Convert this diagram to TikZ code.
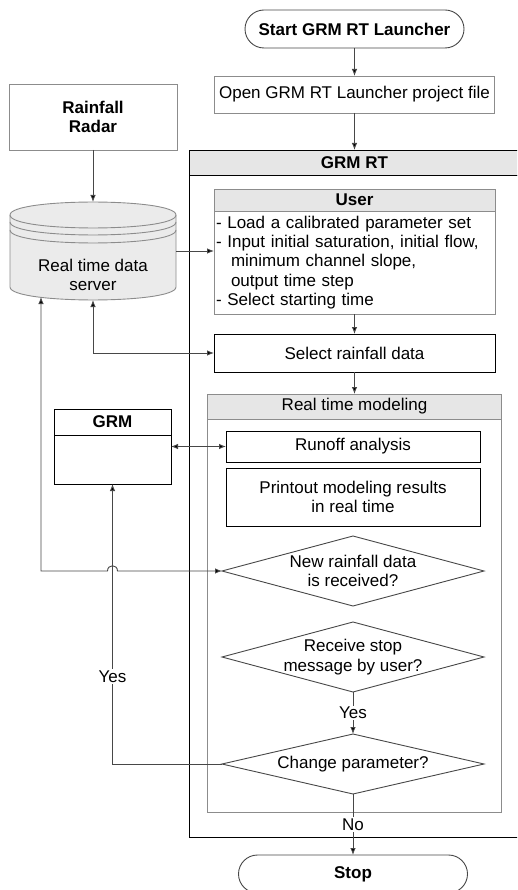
\documentclass[tikz,border=0pt]{standalone}
\usepackage{fontspec}
\setmainfont{Liberation Sans}
\usepackage{xcolor}
\usepackage{tikz}
\usetikzlibrary{calc, shapes.geometric, shapes.misc, arrows.meta, positioning}

\definecolor{linegray}{HTML}{474747}
\definecolor{boxgray}{HTML}{8C8C8C}
\definecolor{headfill}{HTML}{E6E6E6}
\definecolor{dbfill}{HTML}{EBEBEB}

\tikzset{
	base/.style={font=\fontsize{17}{19.2}\selectfont, inner sep=0pt, outer sep=0pt, line width=0.9pt},
	bold/.style={font=\fontsize{17}{19.2}\selectfont\bfseries},
	terminal/.style={base, bold, rounded rectangle, draw=linegray, minimum height=38pt},
	process/.style={base, rectangle, draw=black, align=center},
	lightbox/.style={process, draw=boxgray},
	headbox/.style={base, rectangle, draw, fill=headfill},
	decision/.style={base, diamond, draw=linegray, minimum width=262pt},
	conn/.style={draw=linegray, line width=0.9pt, -{Latex[length=7pt, width=5.5pt, fill=black]}},
	twoway/.style={conn, {Latex[length=7pt, width=5.5pt, fill=black]}-{Latex[length=7pt, width=5.5pt, fill=black]}},
	yesno/.style={base, fill=white, inner sep=1.5pt}
}

\begin{document}
\begin{tikzpicture}[x=1pt, y=-1pt]
		\useasboundingbox (0,0) rectangle (517,890);
		\clip (0,0) rectangle (517,890);

		% main column
		\node(start) [terminal, minimum width=219pt] at (354.5,29) {Start GRM RT Launcher};
		\node [lightbox, below=28pt of start, minimum width=280pt, minimum height=37pt] (open) {Open GRM RT Launcher project file};
		\node [headbox, below=37pt of open, xshift=10pt, minimum width=350pt, minimum height=25pt] (grmrthead) {};
		\node [bold] (grmrttext) at (grmrthead -| open) {GRM RT};
		\node [process, below=0pt of grmrthead, minimum width=350pt, minimum height=662pt] (grmrt) {};
		\node [headbox, bold, draw=boxgray, below=14pt of grmrthead.south -| open, minimum width=281pt, minimum height=22pt] (userhead) {User};
		\node [lightbox, below=0pt of userhead, minimum width=281pt, minimum height=103pt, text width=277pt, inner xsep=2pt, align=left] (user) {- Load a calibrated parameter set\\
					- Input initial saturation, initial flow,\\
					\hspace*{15pt}minimum channel slope,\\
					\hspace*{15pt}output time step\\
					- Select starting time};
		\node [process, below=20pt of user, minimum width=281pt, minimum height=38pt] (select) {Select rainfall data};
		\node [headbox, draw=boxgray, below=22pt of select, minimum width=294pt, minimum height=25pt] (rtmhead) {Real time modeling};
		\node [lightbox, below=0pt of rtmhead, minimum width=294pt, minimum height=393pt] (rtm) {};
		\node [process, below=12pt of rtmhead, xshift=-1.5pt, minimum width=254pt, minimum height=31pt] (runoff) {Runoff analysis};
		\node [process, below=6pt of runoff, minimum width=254pt, minimum height=58pt] (printout) {Printout modeling results\\in real time};
		\node [decision, below=10pt of printout, minimum height=70pt,
			label={[base, align=center, name=newdatatext]center:{New rainfall data\\is received?}}] (newdata) {};
		\node [decision, below=16pt of newdata, minimum height=70pt,
			label={[base, align=center, name=stopmsgtext]center:{Receive stop\\message by user?}}] (stopmsg) {};
		\node [decision, below=42pt of stopmsg, minimum height=60pt,
			label={[base, name=changetext]center:{Change parameter?}}] (change) {};
		\node [terminal, below=61pt of change, minimum width=229pt] (stop) {Stop};

		% left column
		\node [lightbox, bold, minimum width=168pt, minimum height=66pt] (radar) at (93,117) {Rainfall\\Radar};
		\node [base, minimum width=166pt, minimum height=98pt] (server) at (93,251) {};
		\path[draw=boxgray, fill=dbfill, line width=0.9pt] (10,215) -- (10,287) .. controls (10,304.3) and (176,304.3) .. (176,287)
			-- (176,215) .. controls (176,197.7) and (10,197.7) .. (10,215) -- cycle;
		\path[draw=boxgray, line width=0.9pt] (10,215) .. controls (10,232.3) and (176,232.3) .. (176,215);
		\path[draw=boxgray, line width=0.9pt] (10,222) .. controls (10,239.3) and (176,239.3) .. (176,222);
		\path[draw=boxgray, line width=0.9pt] (10,230) .. controls (10,247.3) and (176,247.3) .. (176,230);
		\node [base, align=center] (servertext) at (93,275) {Real time data\\server};
		\node [headbox, bold, fill=white, minimum width=117pt, minimum height=26pt] (grmhead) at (112.5,422) {GRM};
		\node [process, below=0pt of grmhead, minimum width=117pt, minimum height=49pt] (grm) {};
		\coordinate (serverfoot) at (41,297);

		% connectors
		\path[conn] (start) -- (open);
		\path[conn] (open) -- (open |- grmrthead.north);
		\path[conn] (radar) -- (server);
		\path[conn] (server.east) -- (server.east -| user.west);
		\path[conn] (user) -- (select);
		\path[conn] (select) -- (rtmhead);
		\path[twoway] (server.south) |- (select.west);
		\path[twoway] (runoff.west -| grm.east) -- (runoff.west);
		\path[twoway] (serverfoot) |- ($(newdata.west -| grm.south)+(-5,0)$)
			.. controls +(0,-7) and +(0,-7) .. ($(newdata.west -| grm.south)+(5,0)$) -- (newdata.west);
		\path[conn] (stopmsg) -- node[yesno] (yes1) {Yes} (change);
		\path[conn] (change.west) -| node[yesno, pos=0.656] (yes2) {Yes} (grm.south);
		\path[conn] (change) -- node[yesno] (no) {No} (stop);
	\end{tikzpicture}
\end{document}
